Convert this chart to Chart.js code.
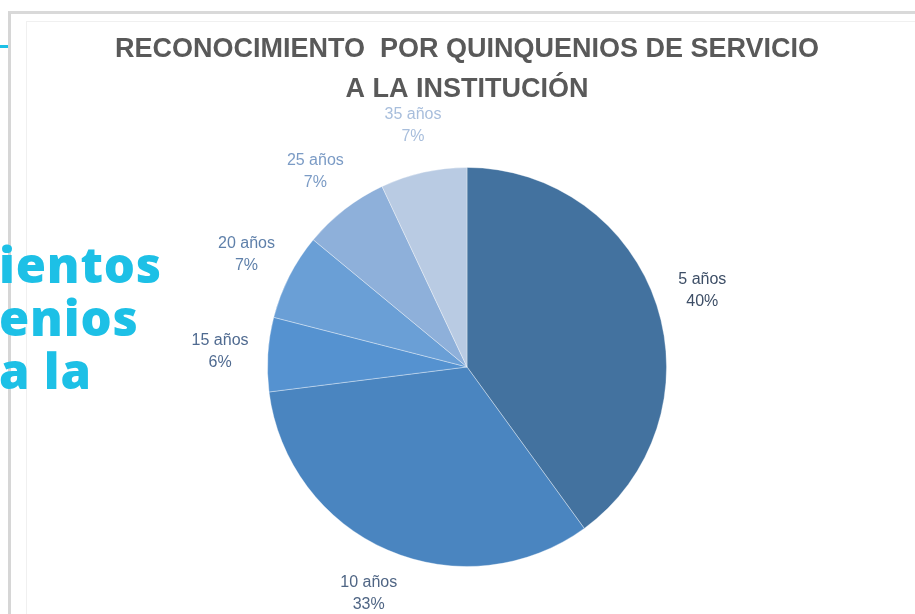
<!DOCTYPE html>
<html>
<head>
<meta charset="utf-8">
<script src="https://cdn.jsdelivr.net/npm/chart.js@4"></script>
<style>
  html, body { margin: 0; padding: 0; background: #ffffff; width: 915px; height: 614px; overflow: hidden; }
  #frame { position: absolute; left: 8px; top: 11px; width: 920px; height: 620px;
           border-left: 3px solid #d6d6d6; border-top: 3px solid #d9d9d9; box-sizing: border-box; }
  #frame2 { position: absolute; left: 26px; top: 21px; width: 900px; height: 600px;
           border-left: 1px solid #f0f0f0; border-top: 1px solid #f0f0f0; }
  #cyanline { position: absolute; left: 0; top: 45px; width: 8px; height: 3px; background: #1cc0e6; }
  #wrap { position: absolute; left: 0; top: 0; width: 915px; height: 614px; }
  #bgtext { position: absolute; left: -1px; top: 238px; font-family: "Open Sans", sans-serif; font-weight: 800;
            font-size: 49px; line-height: 53px; color: #1dc0e6; z-index: 5; letter-spacing: 0.8px; }
</style>
</head>
<body>
<div id="frame"></div>
<div id="frame2"></div>
<div id="cyanline"></div>
<div id="wrap"><canvas id="c" width="915" height="614"></canvas></div>
<div id="bgtext">ientos<br>enios<br>a la</div>
<script>
const categories = ['5 años', '10 años', '15 años', '20 años', '25 años', '35 años'];
const percentages = [40, 33, 6, 7, 7, 7];
const titleLines = ['RECONOCIMIENTO  POR QUINQUENIOS DE SERVICIO', 'A LA INSTITUCIÓN'];
const sliceColors = ['#43729f', '#4a85c0', '#5592d0', '#6a9fd6', '#8eb0da', '#b9cbe3'];
const labelColors = ['#3d4e66', '#4f6584', '#4f6a90', '#5f80aa', '#7b9bc5', '#a8bedc'];

const labelPlugin = {
  id: 'sliceLabels',
  afterDatasetsDraw(chart) {
    const ctx = chart.ctx;
    const meta = chart.getDatasetMeta(0);
    ctx.save();
    ctx.font = '16px "Liberation Sans", Arial, sans-serif';
    ctx.textAlign = 'center';
    ctx.textBaseline = 'middle';
    meta.data.forEach((arc, i) => {
      const p = arc.getProps(['x', 'y', 'startAngle', 'endAngle', 'outerRadius'], true);
      const mid = (p.startAngle + p.endAngle) / 2;
      const r = p.outerRadius * 1.24;
      const cx = p.x + Math.cos(mid) * r;
      const cy = p.y + Math.sin(mid) * r;
      ctx.fillStyle = labelColors[i];
      ctx.fillText(categories[i], cx, cy - 11);
      ctx.fillText(percentages[i] + '%', cx, cy + 11);
    });
    ctx.restore();
  }
};

new Chart(document.getElementById('c'), {
  type: 'pie',
  data: {
    labels: categories,
    datasets: [{
      data: percentages,
      backgroundColor: sliceColors,
      borderColor: 'rgba(255,255,255,0.35)',
      borderWidth: 1
    }]
  },
  options: {
    responsive: false,
    animation: false,
    devicePixelRatio: 1,
    layout: { padding: { left: 60, right: 41, top: 0, bottom: 47 } },
    plugins: {
      legend: { display: false },
      tooltip: { enabled: false },
      title: {
        display: true,
        text: titleLines,
        color: '#595959',
        font: { family: '"Liberation Sans", Arial, sans-serif', size: 27, weight: 'bold', lineHeight: 1.48 },
        padding: { top: 30, bottom: 57 }
      }
    }
  },
  plugins: [labelPlugin]
});
</script>
</body>
</html>
